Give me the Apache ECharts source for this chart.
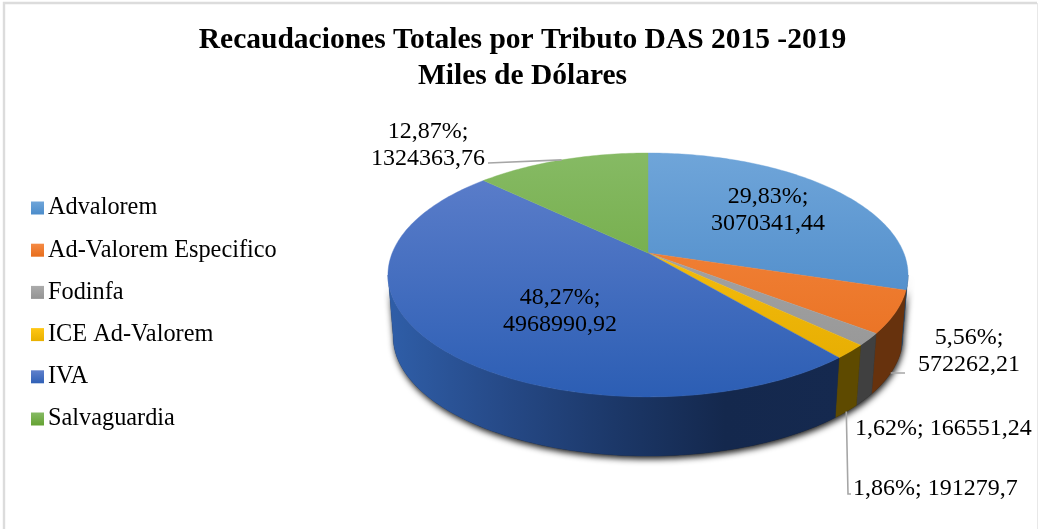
<!DOCTYPE html>
<html><head><meta charset="utf-8">
<style>html,body{margin:0;padding:0;background:#fff}#c{width:1039px;height:529px}</style>
<script src="https://cdn.jsdelivr.net/npm/echarts@6/dist/echarts.min.js"></script>
</head><body><div id="c"></div>
<script>
const titleText = 'Recaudaciones Totales por Tributo DAS 2015 -2019\nMiles de Dólares';
const categories = ['Advalorem','Ad-Valorem Especifico','Fodinfa','ICE Ad-Valorem','IVA','Salvaguardia'];
const values = [3070341.44,572262.21,166551.24,191279.7,4968990.92,1324363.76];

const topColors = [['#6fa5d9','#3f80c3'],['#f58a44','#e76d1c'],['#ababab','#949494'],['#ffc714','#e3aa00'],['#5f80cc','#2c5eb4'],['#86ba64','#64a232']];
const legendColors = [['#6fa5d9','#4b8ccb'],['#f58a44','#e76d1c'],['#ababab','#949494'],['#ffc714','#e8b000'],['#5f80cc','#2f60b6'],['#86ba64','#64a232']];
const sideColors = ['#234f78','#67320d','#404040','#5e4a00',null,'#3f6320'];
const labelSpots = [
 {x:768,y:210,align:'center'},
 {x:969,y:351,align:'center',lead:[[895,373],[905,373]]},
 {x:855,y:429,align:'left'},
 {x:853,y:489,align:'left',lead:[[848,494],[851,494]]},
 {x:560,y:311,align:'center'},
 {x:428,y:145,align:'center',lead:[[488,163]]}
];

const total = values.reduce((a,b)=>a+b,0);
const CX=648,CY=253,A=118,B=255.8,P=0.18,SHRINK=0.98,DEPTH=62;
const VIS0=100.4,VIS1=259.6;
const rad=d=>d*Math.PI/180;
function pt(deg,low){
  const u=Math.sin(rad(deg)),v=Math.cos(rad(deg)),w=1+P*v;
  const x=B*u/w,y=-A*v/w;
  return low?[CX+x*SHRINK,CY+y*SHRINK+DEPTH]:[CX+x,CY+y];
}
function arc(a0,a1,low){
  const n=Math.max(2,Math.ceil(Math.abs(a1-a0)/1)),o=[];
  for(let i=0;i<=n;i++)o.push(pt(a0+(a1-a0)*i/n,low));
  return o;
}
const pctText=i=>(values[i]/total*100).toFixed(2).replace('.',',')+'%';
const valText=i=>String(values[i]).replace('.',',');
const sep=[0];values.forEach(v=>sep.push(sep[sep.length-1]+v/total*360));
const grad=(c,x0,y0,x1,y1)=>({type:'linear',x:x0,y:y0,x2:x1,y2:y1,global:true,colorStops:c.map((k,i)=>({offset:i/(c.length-1),color:k}))});

function renderBase(){
  const pts=arc(VIS0,VIS1,true);
  return {type:'polygon',shape:{points:pts.concat(arc(VIS1,VIS0,false))},
    style:{fill:'#222',shadowBlur:6,shadowColor:'rgba(0,0,0,0.9)',shadowOffsetY:3,shadowOffsetX:1},z2:0};
}
function renderSlice(i){
  const a0=sep[i],a1=sep[i+1],kids=[];
  const s0=Math.max(a0,VIS0),s1=Math.min(a1,VIS1);
  if(s1>s0){
    const fill=sideColors[i]||grad(['#2f5ea8','#264a88','#1c3869','#14284d','#15294f'],388,0,838,0);
    kids.push({type:'polygon',shape:{points:arc(s0,s1,false).concat(arc(s1,s0,true))},style:{fill,stroke:fill,lineWidth:0.4},z2:1});
  }
  const fill=grad(topColors[i],0,153,0,397);
  kids.push({type:'polygon',shape:{points:[[CX,CY]].concat(arc(a0,a1,false))},style:{fill,stroke:fill,lineWidth:0.4},z2:2});
  return {type:'group',children:kids};
}
function renderLabel(i){
  const s=labelSpots[i],kids=[];
  if(s.lead){
    const mid=(sep[i]+sep[i+1])/2;
    const lowSide=mid>VIS0&&mid<VIS1;
    kids.push({type:'polyline',shape:{points:[pt(mid,lowSide)].concat(s.lead)},style:{fill:'none',stroke:'#a6a6a6',lineWidth:1.6},z2:3});
  }
  const text=s.align==='left'?pctText(i)+'; '+valText(i):pctText(i)+';\n'+valText(i);
  kids.push({type:'text',x:s.x,y:s.y,style:{text,fill:'#000',font:'24px "Liberation Serif"',align:s.align,verticalAlign:'middle',lineHeight:27},z2:4});
  return {type:'group',children:kids};
}
const series=[{type:'custom',coordinateSystem:'none',silent:true,z:1,data:[0],renderItem:renderBase,tooltip:{show:false}}];
categories.forEach((name,i)=>series.push({type:'custom',name,coordinateSystem:'none',z:2,data:[values[i]],
  itemStyle:{color:{type:'linear',x:0,y:0,x2:0,y2:1,colorStops:[{offset:0,color:legendColors[i][0]},{offset:1,color:legendColors[i][1]}]}},
  renderItem:()=>renderSlice(i)}));
categories.forEach((name,i)=>series.push({type:'custom',coordinateSystem:'none',z:5,silent:true,data:[values[i]],renderItem:()=>renderLabel(i)}));

const chart=echarts.init(document.getElementById('c'),null,{renderer:'canvas'});
chart.setOption({
  animation:false,backgroundColor:'#fff',
  title:{text:titleText,left:517.5,top:17.5,textAlign:'center',textStyle:{fontFamily:'Liberation Serif',fontWeight:'bold',fontSize:29.5,lineHeight:36,color:'#000'}},
  legend:{orient:'vertical',left:26,top:191,icon:'rect',itemWidth:13,itemHeight:13,itemGap:18.2,selectedMode:false,data:categories,
    textStyle:{fontFamily:'Liberation Serif',fontSize:24.3,color:'#000',lineHeight:24,padding:[0,0,0,-1]}},
  graphic:[
    {type:'polyline',z:-1,shape:{points:[[4,540],[4,3],[1037,3]]},style:{fill:'none',stroke:'#dcdcdc',lineWidth:2.4}},
    {type:'line',z:-1,shape:{x1:1037.5,y1:3,x2:1037.5,y2:529},style:{stroke:'#e8e8e8',lineWidth:1}}],
  series
});
</script></body></html>
